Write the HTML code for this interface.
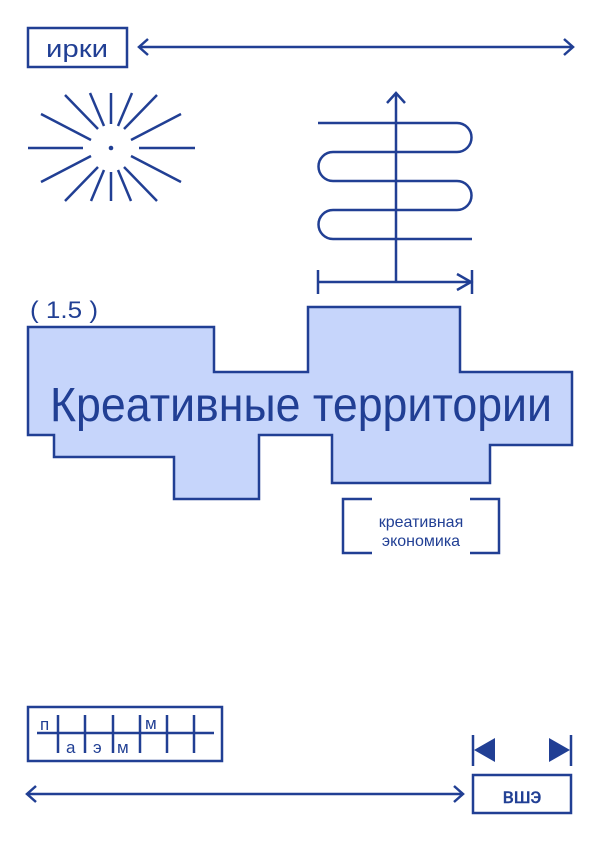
<!DOCTYPE html>
<html><head><meta charset="utf-8"><style>
html,body{margin:0;padding:0;background:#fff;}
svg{display:block}
text{font-family:"Liberation Sans",sans-serif;fill:#213f94}
</style></head><body>
<svg width="600" height="842" viewBox="0 0 600 842" xmlns="http://www.w3.org/2000/svg">
<g stroke="#213f94" stroke-width="2.5" fill="none">
<rect x="28" y="28" width="99" height="39"/>
<line x1="139" y1="47" x2="573" y2="47"/>
<polyline points="148,39 139,47 148,55"/>
<polyline points="564,39 573,47 564,55"/>
<line x1="28" y1="148" x2="83" y2="148"/>
<line x1="139" y1="148" x2="195" y2="148"/>
<line x1="111" y1="93" x2="111" y2="124"/>
<line x1="111" y1="172" x2="111" y2="201"/>
<line x1="91" y1="140" x2="41" y2="114"/>
<line x1="131" y1="140" x2="181" y2="114"/>
<line x1="91" y1="156" x2="41" y2="182"/>
<line x1="131" y1="156" x2="181" y2="182"/>
<line x1="98" y1="129" x2="65" y2="95"/>
<line x1="124" y1="129" x2="157" y2="95"/>
<line x1="98" y1="167" x2="65" y2="201"/>
<line x1="124" y1="167" x2="157" y2="201"/>
<line x1="104" y1="126" x2="90" y2="93"/>
<line x1="118" y1="126" x2="132" y2="93"/>
<line x1="104" y1="170" x2="91" y2="201"/>
<line x1="118" y1="170" x2="131" y2="201"/>
<path d="M318 123 H457 A14.5 14.5 0 0 1 457 152 H333 A14.5 14.5 0 0 0 333 181 H457 A14.5 14.5 0 0 1 457 210 H333 A14.5 14.5 0 0 0 333 239 H472"/>
<line x1="396" y1="93" x2="396" y2="282"/>
<polyline points="387,103 396,93 405,103"/>
<line x1="318" y1="282" x2="472" y2="282"/>
<line x1="318" y1="270" x2="318" y2="294"/>
<line x1="472" y1="270" x2="472" y2="294"/>
<polyline points="457,274 471,282 457,290"/>
<polyline points="372,499 343,499 343,553 372,553"/>
<polyline points="470,499 499,499 499,553 470,553"/>
<rect x="28" y="707" width="194" height="54"/>
<line x1="37" y1="733" x2="214" y2="733"/>
<line x1="58" y1="715" x2="58" y2="753"/>
<line x1="85" y1="715" x2="85" y2="753"/>
<line x1="113" y1="715" x2="113" y2="753"/>
<line x1="140" y1="715" x2="140" y2="753"/>
<line x1="167" y1="715" x2="167" y2="753"/>
<line x1="194" y1="715" x2="194" y2="753"/>
<line x1="27" y1="794" x2="463" y2="794"/>
<polyline points="36,786 27,794 36,802"/>
<polyline points="454,786 463,794 454,802"/>
<rect x="473" y="775" width="98" height="38"/>
<line x1="473" y1="735" x2="473" y2="766"/>
<line x1="571" y1="735" x2="571" y2="766"/>
</g>
<circle cx="111" cy="148" r="2.3" fill="#213f94"/>
<polygon points="474,750 495,738 495,762" fill="#213f94"/>
<polygon points="570,750 549,738 549,762" fill="#213f94"/>
<polygon points="28,327 214,327 214,372 308,372 308,307 460,307 460,372 572,372 572,445 490,445 490,483 332,483 332,435 259,435 259,499 174,499 174,457 54,457 54,435 28,435" fill="#c6d5fb" stroke="#213f94" stroke-width="2.5"/>
<text x="50" y="421" font-size="48" textLength="502" lengthAdjust="spacingAndGlyphs">Креативные территории</text>
<text x="30" y="318" font-size="24" textLength="68" lengthAdjust="spacingAndGlyphs">( 1.5 )</text>
<text x="46" y="57" font-size="24" textLength="62" lengthAdjust="spacingAndGlyphs">ирки</text>
<text x="421" y="527" font-size="16" text-anchor="middle">креативная</text>
<text x="421" y="546" font-size="16" text-anchor="middle">экономика</text>
<text x="40" y="730" font-size="17">п</text>
<text x="145" y="729" font-size="17">м</text>
<text x="66" y="753" font-size="17">а</text>
<text x="93" y="753" font-size="17">э</text>
<text x="117" y="753" font-size="17">м</text>
<text x="522" y="803" font-size="21" text-anchor="middle" stroke="#213f94" stroke-width="0.5">вшэ</text>
</svg>
</body></html>
